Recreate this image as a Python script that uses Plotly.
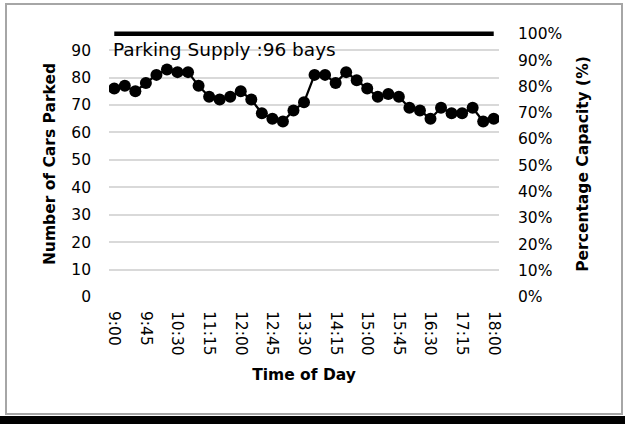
import plotly.graph_objects as go

times = ["9:00", "9:15", "9:30", "9:45", "10:00", "10:15", "10:30", "10:45",
         "11:00", "11:15", "11:30", "11:45", "12:00", "12:15", "12:30", "12:45",
         "13:00", "13:15", "13:30", "13:45", "14:00", "14:15", "14:30", "14:45",
         "15:00", "15:15", "15:30", "15:45", "16:00", "16:15", "16:30", "16:45",
         "17:00", "17:15", "17:30", "17:45", "18:00"]
cars_parked = [76, 77, 75, 78, 81, 83, 82, 82, 77, 73, 72, 73, 75, 72, 67, 65,
               64, 68, 71, 81, 81, 78, 82, 79, 76, 73, 74, 73, 69, 68, 65, 69,
               67, 67, 69, 64, 65]
supply_bays = 96
tick_labels = times[::3]

FONT = "Century Gothic, DejaVu Sans, sans-serif"
W, H = 625, 424
L, R, T, B = 109, 126, 31, 127
pw, ph = W - L - R, H - T - B

def px_x(p):
    return (p - L) / pw

def px_y(p):
    return (H - B - p) / ph

ytop = 97

fig = go.Figure()
fig.add_trace(go.Scatter(
    x=times, y=[supply_bays] * len(times), mode="lines",
    line=dict(color="black", width=4.5), showlegend=False, hoverinfo="skip"))
fig.add_trace(go.Scatter(
    x=times, y=cars_parked, mode="lines+markers",
    line=dict(color="black", width=2.25),
    marker=dict(color="black", size=12), showlegend=False))
# invisible trace to activate secondary axis
fig.add_trace(go.Scatter(x=[times[0]], y=[0], yaxis="y2", mode="markers",
                         marker=dict(opacity=0), showlegend=False, hoverinfo="skip"))

fig.update_layout(
    width=W, height=H,
    margin=dict(l=L, r=R, t=T, b=B, autoexpand=False),
    paper_bgcolor="white", plot_bgcolor="white",
    font=dict(family=FONT, size=15.5, color="black"),
    xaxis=dict(type="category", categoryorder="array", categoryarray=times,
               range=[-0.5, len(times) - 0.5],
               tickvals=tick_labels, ticktext=tick_labels, tickangle=90,
               showgrid=False, zeroline=False, showline=False, ticks="",
               ticklabelstandoff=13,
               title=dict(text="<b>Time of Day</b>", font=dict(size=15.5), standoff=14)),
    yaxis=dict(range=[0, ytop], dtick=10, tick0=0, showgrid=True,
               gridcolor="#d9d9d9", gridwidth=1.5, zeroline=False, showline=False,
               ticks="", ticklabelstandoff=17,
               title=dict(text="<b>Number of Cars Parked</b>", font=dict(size=15.5), standoff=11)),
    yaxis2=dict(range=[0, ytop / supply_bays], overlaying="y", side="right",
                dtick=0.1, tick0=0, tickformat=".0%", showgrid=False,
                zeroline=False, showline=False, ticks="", ticklabelstandoff=18,
                title=dict(text="<b>Percentage Capacity (%)</b>", font=dict(size=15.5), standoff=15)),
    annotations=[dict(x=px_x(111), y=px_y(50), xref="paper", yref="paper",
                      xanchor="left", yanchor="middle", showarrow=False,
                      text="Parking Supply :96 bays", font=dict(size=18.5))],
    shapes=[
        dict(type="rect", xref="paper", yref="paper",
             x0=px_x(6), x1=px_x(622), y0=px_y(414), y1=px_y(4),
             line=dict(color="#a6a6a6", width=2), fillcolor="rgba(0,0,0,0)", layer="below"),
        dict(type="rect", xref="paper", yref="paper",
             x0=px_x(0), x1=px_x(625), y0=px_y(424), y1=px_y(416),
             line=dict(width=0), fillcolor="black"),
    ],
)

fig.write_html("out.html", config={"displayModeBar": False},
               post_script="document.body.style.margin='0';")
